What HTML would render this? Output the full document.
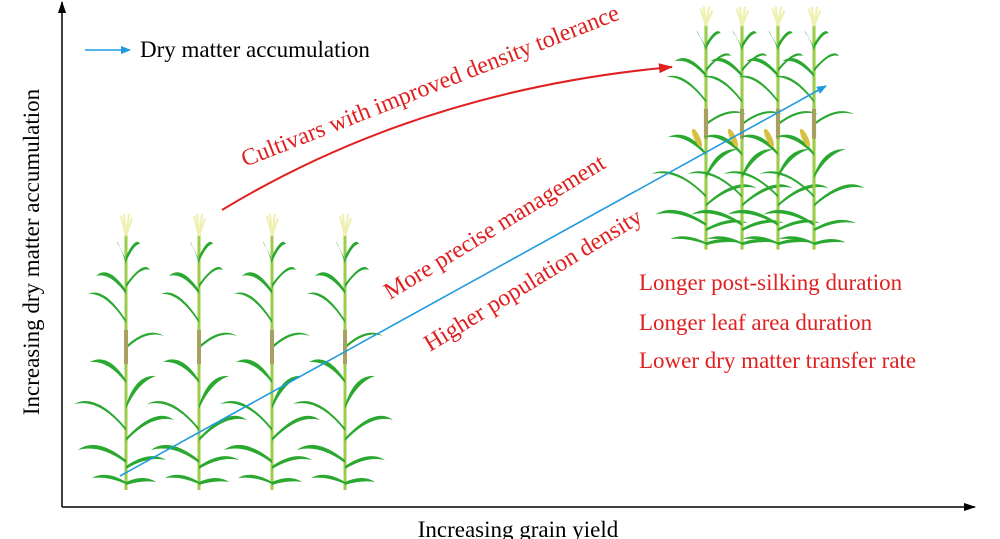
<!DOCTYPE html>
<html><head><meta charset="utf-8"><style>
html,body{margin:0;padding:0;background:#fff;}
svg{display:block;font-family:"Liberation Serif",serif;}
</style></head><body>
<svg width="1000" height="539" viewBox="0 0 1000 539" xmlns="http://www.w3.org/2000/svg">
<defs>
<g id="plant">
  <path d="M0,270 L0,14" stroke="#9ccc4a" stroke-width="3" fill="none"/>
  <path d="M0,16 L-5,-4 M0,16 L-2,-6 M0,16 L3,-6 M0,16 L6,-2" stroke="#eef0b0" stroke-width="2" fill="none"/>
  <g fill="#2aa830">
    <path d="M0,40 Q-12,14 -8,24 Q-4,30 0,44 Z"/>
    <path d="M0,36 Q10,16 14,24 Q8,24 0,42 Z"/>
    <path d="M0,70 Q-18,44 -30,56 Q-16,52 0,74 Z"/>
    <path d="M0,64 Q18,40 24,50 Q14,46 0,68 Z"/>
    <path d="M0,100 Q-22,66 -38,74 Q-20,72 0,103 Z"/>
    <path d="M0,126 Q22,106 38,116 Q20,110 0,129 Z"/>
    <path d="M0,160 Q-18,132 -36,142 Q-18,140 0,163 Z"/>
    <path d="M0,185 Q10,154 30,156 Q12,162 0,189 Z"/>
    <path d="M0,208 Q-30,172 -52,184 Q-26,178 0,211 Z"/>
    <path d="M0,218 Q30,186 48,200 Q26,194 0,221 Z"/>
    <path d="M0,240 Q-30,216 -48,230 Q-26,224 0,243 Z"/>
    <path d="M0,246 Q24,230 40,240 Q22,236 0,249 Z"/>
    <path d="M0,262 Q-20,250 -34,258 Q-18,256 0,264 Z"/>
    <path d="M0,262 Q18,254 30,262 Q16,260 0,265 Z"/>
  </g>
  <rect x="-2" y="110" width="4" height="34" fill="#a8a060"/>
</g>
<marker id="ab" markerWidth="10" markerHeight="8" refX="9" refY="4" orient="auto" markerUnits="userSpaceOnUse"><path d="M0,0 L10,4 L0,8 Z" fill="#1e9be0"/></marker>
<marker id="ar" markerWidth="14" markerHeight="10" refX="13" refY="5" orient="auto" markerUnits="userSpaceOnUse"><path d="M0,0 L14,5 L0,10 Z" fill="#e02020"/></marker>
<marker id="ak" markerWidth="12" markerHeight="8" refX="11" refY="4" orient="auto" markerUnits="userSpaceOnUse"><path d="M0,0 L12,4 L0,8 Z" fill="#000"/></marker>
</defs>

<line x1="62" y1="507" x2="62" y2="2" stroke="#000" stroke-width="1.5" marker-end="url(#ak)"/>
<line x1="62" y1="507" x2="975" y2="507" stroke="#000" stroke-width="1.5" marker-end="url(#ak)"/>
<text x="39" y="252" font-size="23" text-anchor="middle" transform="rotate(-90 39 252)">Increasing dry matter accumulation</text>
<text x="518" y="537" font-size="23" text-anchor="middle">Increasing grain yield</text>

<use href="#plant" transform="translate(126,220)"/>
<use href="#plant" transform="translate(199,220)"/>
<use href="#plant" transform="translate(272,220)"/>
<use href="#plant" transform="translate(345,220)"/>

<use href="#plant" transform="translate(706,12) scale(1.05,0.88)"/>
<use href="#plant" transform="translate(742,12) scale(1.05,0.88)"/>
<use href="#plant" transform="translate(778,12) scale(1.05,0.88)"/>
<use href="#plant" transform="translate(814,12) scale(1.05,0.88)"/>
<g fill="#d8c040"><ellipse cx="697" cy="138" rx="3" ry="10" transform="rotate(-25 697 138)"/><ellipse cx="733" cy="138" rx="3" ry="10" transform="rotate(-25 733 138)"/><ellipse cx="769" cy="138" rx="3" ry="10" transform="rotate(-25 769 138)"/><ellipse cx="805" cy="138" rx="3" ry="10" transform="rotate(-25 805 138)"/></g>

<line x1="120" y1="476" x2="826" y2="86" stroke="#1e9be0" stroke-width="1.6" marker-end="url(#ab)"/>
<path d="M222,210 Q420,90 672,67" stroke="#e02020" stroke-width="2" fill="none" marker-end="url(#ar)"/>

<line x1="85" y1="50" x2="130" y2="50" stroke="#1e9be0" stroke-width="1.6" marker-end="url(#ab)"/>
<text x="140" y="57" font-size="23">Dry matter accumulation</text>

<g fill="#e02020">
<text font-size="24" transform="translate(245,167) rotate(-21.5)">Cultivars with improved density tolerance</text>
<text font-size="24" transform="translate(390,300) rotate(-31.5)">More precise management</text>
<text font-size="24" transform="translate(430,352) rotate(-31.5)">Higher population density</text>
<g font-size="23">
<text x="639" y="290">Longer post-silking duration</text>
<text x="639" y="330">Longer leaf area duration</text>
<text x="639" y="368">Lower dry matter transfer rate</text>
</g>
</g>
</svg>
</body></html>
